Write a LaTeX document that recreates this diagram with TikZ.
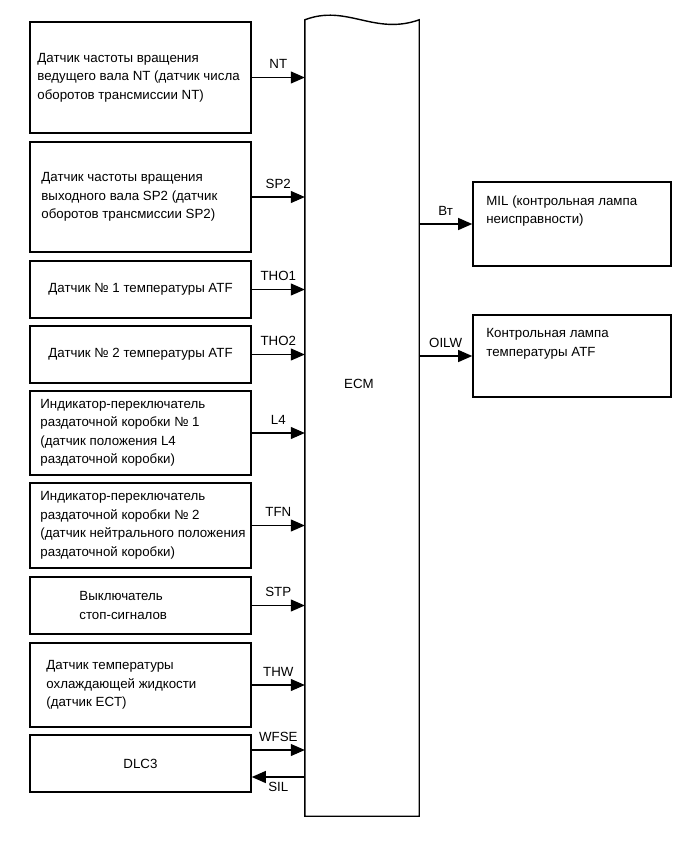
\documentclass[tikz,border=0pt]{standalone}
\usepackage{fontspec}
\setmainfont{Liberation Sans}
\usetikzlibrary{arrows.meta,positioning}
\tikzset{
  sbox/.style={draw,line width=1.6pt,minimum width=221pt,inner sep=0pt},
  stxt/.style={align=left,inner sep=0pt,font=\fontsize{13.3}{18.5}\selectfont},
  sarr/.style={-{Triangle[length=14pt,width=12pt]},line width=1.1pt},
  slab/.style={font=\fontsize{13.3}{15}\selectfont,inner sep=3pt},
  ecmline/.style={line width=1.4pt}
}

\begin{document}
\begin{tikzpicture}[x=1pt,y=-1pt]
  \useasboundingbox (0,0) rectangle (690,855);
  % ECM body with wavy top
  \node[minimum width=114pt,minimum height=796pt,inner sep=0pt] (ecm) at (362,418) {};
  \draw[ecmline] (ecm.north west) .. controls +(42,-16) and +(-45,16) .. (ecm.north east)
     -- (ecm.south east) -- (ecm.south west) -- cycle;
  \node[stxt] (ecmname) at (359,384) {ECM};
  % input sensors
  \foreach \i/\y/\h/\an/\dx/\sig/\txt in {
     1/77.5/111/west/8/NT/{Датчик частоты вращения\\ведущего вала NT (датчик числа\\оборотов трансмиссии NT)},
     2/197/110/west/12/SP2/{Датчик частоты вращения\\выходного вала SP2 (датчик\\оборотов трансмиссии SP2)},
     3/289.5/57/center/0/THO1/{Датчик № 1 температуры ATF},
     4/354.5/57/center/0/THO2/{Датчик № 2 температуры ATF},
     5/433/84/west/11/L4/{Индикатор-переключатель\\раздаточной коробки № 1\\(датчик положения L4\\раздаточной коробки)},
     6/525.5/85/west/11/TFN/{Индикатор-переключатель\\раздаточной коробки № 2\\(датчик нейтрального положения\\раздаточной коробки)},
     7/605.5/57/west/50/STP/{Выключатель\\стоп-сигналов},
     8/685/84/west/17/THW/{Датчик температуры\\охлаждающей жидкости\\(датчик ECT)}}{
    \node[sbox,minimum height=\h pt] (b\i) at (140.5,\y) {};
    \node[stxt,anchor=\an] (t\i) at ([xshift=\dx pt]b\i.\an) {\txt};
    \draw[sarr] (b\i.east) -- (b\i.east -| ecm.west) node[slab,midway,above=5pt] {\sig};
  }
  % DLC3, both directions
  \node[sbox,minimum height=57pt] (b9) at (140.5,763.5) {};
  \node[stxt] (t9) at (b9.center) {DLC3};
  \coordinate (wfse) at ([yshift=13.5pt]b9.east);
  \coordinate (sil) at ([yshift=-13.5pt]b9.east);
  \draw[sarr] (wfse) -- (wfse -| ecm.west) node[slab,midway,above=5pt] {WFSE};
  \draw[sarr] (sil -| ecm.west) -- (sil) node[slab,midway,below=2pt] {SIL};
  % outputs
  \node[sbox,minimum width=198pt,minimum height=84pt] (mil) at (572,224) {};
  \node[stxt,anchor=north west] (miltxt) at ([xshift=14pt,yshift=-14pt]mil.north west) {MIL (контрольная лампа\\неисправности)};
  \draw[sarr] (mil.west -| ecm.east) -- (mil.west) node[slab,midway,above=5pt] {Вт};
  \node[sbox,minimum width=198pt,minimum height=82pt] (oil) at (572,356) {};
  \node[stxt,anchor=north west] (oiltxt) at ([xshift=14pt,yshift=-14pt]oil.north west) {Контрольная лампа\\температуры ATF};
  \draw[sarr] (oil.west -| ecm.east) -- (oil.west) node[slab,midway,above=5pt] {OILW};
\end{tikzpicture}
\end{document}
